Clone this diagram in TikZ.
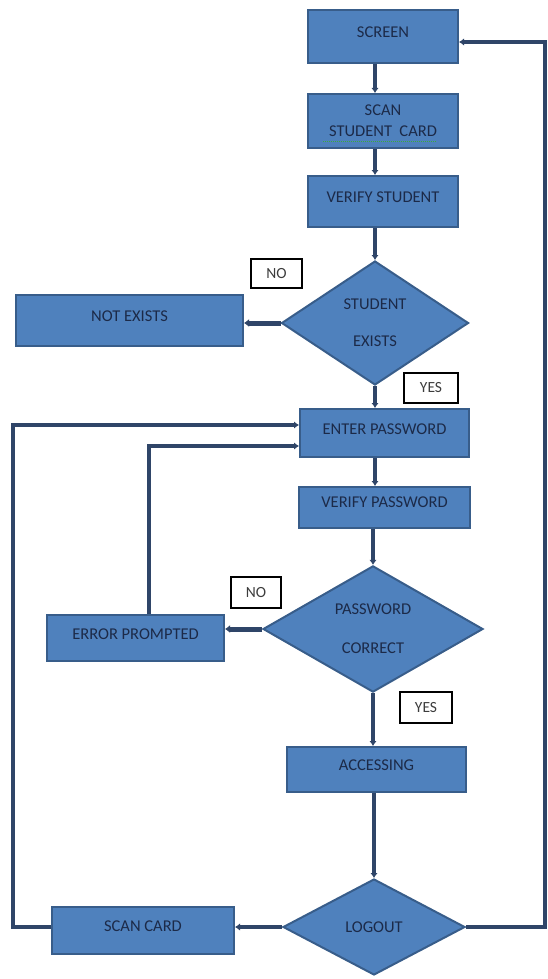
\documentclass[tikz,border=0pt]{standalone}
\usepackage{fontspec}
\setmainfont{Carlito}
\usetikzlibrary{shapes.geometric,arrows.meta}
\definecolor{boxfill}{RGB}{79,129,189}
\definecolor{boxline}{RGB}{56,93,138}
\definecolor{txtcol}{RGB}{28,42,72}
\definecolor{conncol}{RGB}{47,69,104}
\definecolor{lblcol}{RGB}{60,60,60}
\definecolor{squig}{RGB}{60,170,60}
\begin{document}
\begin{tikzpicture}[x=1pt,y=-1pt,
  procbox/.style={draw=boxline, line width=2pt, fill=boxfill, text=txtcol,
    font=\fontsize{16.5}{19}\selectfont, inner sep=0pt, text height=11.5pt, text depth=9.5pt},
  decbox/.style={diamond, draw=boxline, line width=2pt, fill=boxfill, text=txtcol,
    inner sep=0pt, align=center},
  labbox/.style={draw=black, line width=1.2pt, fill=white, text=lblcol,
    font=\fontsize{15.5}{18}\selectfont, inner sep=0pt},
  flow/.style={draw=conncol, line width=3.5pt, -{Latex[length=5pt,width=7.5pt]}},
  flowthick/.style={draw=conncol, line width=5pt, -{Latex[length=5pt,width=8pt]}},
  ]
\useasboundingbox (0,0) rectangle (548,979);
\fill[white] (0,0) rectangle (548,979);

% process boxes
\node[procbox, minimum width=150pt, minimum height=53pt] (scr) at (383,36.5) {SCREEN};
\node[procbox, minimum width=150pt, minimum height=54pt, text height=, text depth=, align=center,
      font=\fontsize{16.5}{21}\selectfont] (scan) at (383,121) {SCAN\\STUDENT\ \ CARD};
\node[procbox, minimum width=150pt, minimum height=51pt] (vstu) at (383,201.5) {VERIFY STUDENT};
\node[procbox, minimum width=227pt, minimum height=51pt] (nex) at (129.5,320.5) {NOT EXISTS};
\node[procbox, minimum width=169pt, minimum height=48pt] (ent) at (384.5,433) {ENTER PASSWORD};
\node[procbox, minimum width=171pt, minimum height=41pt, text height=9pt, text depth=9pt] (vpw) at (384.5,507.5) {VERIFY PASSWORD};
\node[procbox, minimum width=177pt, minimum height=46pt] (err) at (135.5,638) {ERROR PROMPTED};
\node[procbox, minimum width=179pt, minimum height=45pt] (acc) at (376.5,769.5) {ACCESSING};
\node[procbox, minimum width=182pt, minimum height=47pt] (scard) at (143,930.5) {SCAN CARD};

% decisions
\node[decbox, minimum width=187pt, minimum height=124pt, font=\fontsize{16.5}{37}\selectfont] (sex) at (375,323) {STUDENT\\EXISTS};
\node[decbox, minimum width=220pt, minimum height=118pt, font=\fontsize{16.5}{39}\selectfont] (pwc) at (373,629) {PASSWORD\\CORRECT};
\node[decbox, minimum width=182pt, minimum height=96pt, font=\fontsize{16.5}{19}\selectfont] (lgo) at (374,927) {LOGOUT};

% yes/no labels
\node[labbox, minimum width=51pt, minimum height=29pt] (no1) at (276.5,273.5) {NO};
\node[labbox, minimum width=54pt, minimum height=30pt] (yes1) at (431,388) {YES};
\node[labbox, minimum width=50pt, minimum height=31pt] (no2) at (256,592.5) {NO};
\node[labbox, minimum width=52pt, minimum height=31pt] (yes2) at (426,707.5) {YES};

% helper coordinates
\coordinate (mx) at (375,0);
\coordinate (lx) at (13,425);
\coordinate (ey) at (149,446);
\coordinate (rx) at (545,42);

% spell-check squiggle
\draw[squig, line width=1pt, dash pattern=on 1pt off 1pt] (323,141) -- (436,141);

% main flow
\draw[flow] (scr.south -| mx) -- (scan.north -| mx);
\draw[flow] (scan.south -| mx) -- (vstu.north -| mx);
\draw[flow] (vstu.south -| sex.north) -- (sex.north);
\draw[flowthick] (sex.west) -- (sex.west -| nex.east);
\draw[flow] (sex.south) -- (ent.north -| sex.south);
\draw[flow] (ent.south -| mx) -- (vpw.north -| mx);
\draw[flow] (vpw.south -| pwc.north) -- (pwc.north);
\draw[flowthick] (pwc.west) -- (pwc.west -| err.east);
\draw[flow] (pwc.south) -- (acc.north -| pwc.south);
\draw[flow] (acc.south -| lgo.north) -- (lgo.north);
\draw[flow] (lgo.west) -- (lgo.west -| scard.east);

% loops
\draw[flow] (lgo.west -| scard.west) -- (lgo.west -| lx) -- (lx) -- (lx -| ent.west);
\draw[flow] (err.north -| ey) -- (ey) -- (ey -| ent.west);
\draw[flow] (lgo.east) -- (lgo.east -| rx) -- (rx) -- (rx -| scr.east);
\end{tikzpicture}
\end{document}
